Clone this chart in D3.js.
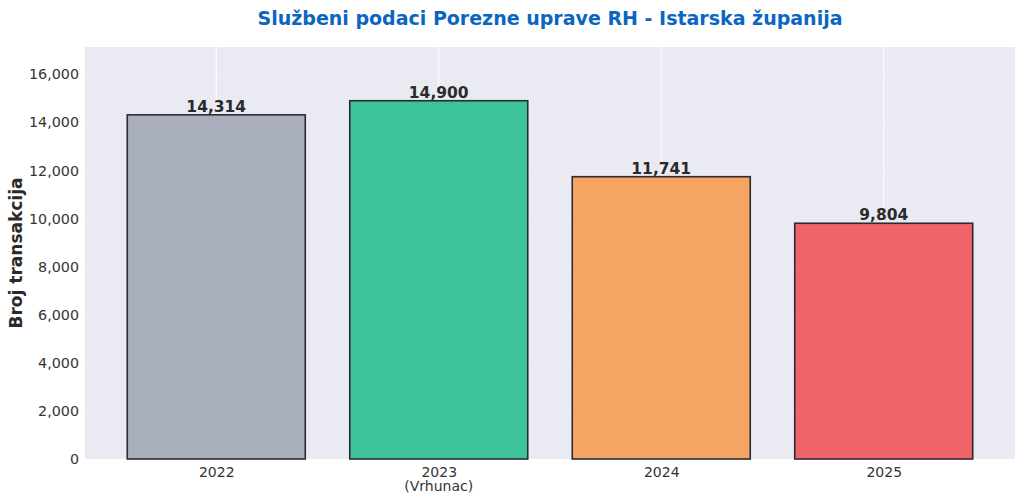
<!DOCTYPE html>
<html><head><meta charset="utf-8">
<script src="https://cdn.jsdelivr.net/npm/d3@7"></script>
<style>body{margin:0;background:#fff}svg{display:block}</style>
</head><body>
<svg id="c" width="1024" height="502"></svg>
<script>
const categories = ["2022", "2023", "2024", "2025"];
const subLabels = ["", "(Vrhunac)", "", ""];
const values = [14314, 14900, 11741, 9804];
const colors = ["#a9afbd", "#3cc399", "#f5a462", "#ee6468"];
const yTicks = [0, 2000, 4000, 6000, 8000, 10000, 12000, 14000, 16000];

const svg = d3.select("#c");
const font = "DejaVu Sans, sans-serif";
const m = {l: 85, r: 1015, t: 47, b: 459};
const x = d3.scaleLinear().domain([-0.59, 3.59]).range([m.l, m.r]);
const y = d3.scaleLinear().domain([0, d3.max(values) * 1.15]).range([m.b, m.t]);
const bw = x(0.4) - x(-0.4);

svg.append("rect").attr("x", m.l).attr("y", m.t).attr("width", m.r - m.l).attr("height", m.b - m.t).attr("fill", "#eaeaf2");

// grid
svg.append("g").selectAll("line").data(yTicks).join("line")
  .attr("x1", m.l).attr("x2", m.r).attr("y1", d => y(d)).attr("y2", d => y(d))
  .attr("stroke", "#fff").attr("stroke-opacity", 0.2).attr("stroke-dasharray", "4,3");
svg.append("g").selectAll("line").data(categories).join("line")
  .attr("x1", (d, i) => x(i)).attr("x2", (d, i) => x(i)).attr("y1", m.t).attr("y2", m.b)
  .attr("stroke", "#fff").attr("stroke-width", 1);

// bars
svg.append("g").selectAll("rect").data(values).join("rect")
  .attr("x", (d, i) => x(i) - bw / 2).attr("width", bw)
  .attr("y", d => y(d)).attr("height", d => y(0) - y(d))
  .attr("fill", (d, i) => colors[i]).attr("stroke", "#2b2b33").attr("stroke-width", 1.6);

// value labels
svg.append("g").selectAll("text").data(values).join("text")
  .attr("x", (d, i) => x(i)).attr("y", d => y(d) - 3)
  .attr("text-anchor", "middle").attr("font-family", font).attr("font-weight", "bold")
  .attr("font-size", 15.5).attr("fill", "#2a2a2a").text(d => d3.format(",")(d));

// y axis ticks
const yAxis = svg.append("g").attr("transform", `translate(${m.l},0)`)
  .call(d3.axisLeft(y).tickValues(yTicks).tickFormat(d3.format(",")).tickSize(0).tickPadding(6));
yAxis.select(".domain").remove();
yAxis.selectAll("text").attr("font-family", font).attr("font-size", 14.3).attr("fill", "#333");

// x axis ticks
const xAxis = svg.append("g").attr("transform", `translate(0,${m.b})`)
  .call(d3.axisBottom(x).tickValues([0, 1, 2, 3]).tickFormat(i => categories[i]).tickSize(0).tickPadding(8));
xAxis.select(".domain").remove();
xAxis.selectAll("text").attr("font-family", font).attr("font-size", 14).attr("fill", "#333");
svg.append("g").selectAll("text").data(subLabels).join("text")
  .attr("x", (d, i) => x(i)).attr("y", 491).attr("text-anchor", "middle")
  .attr("font-family", font).attr("font-size", 14).attr("fill", "#333").text(d => d);

// title & y label
svg.append("text").attr("x", (m.l + m.r) / 2).attr("y", 25).attr("text-anchor", "middle")
  .attr("font-family", font).attr("font-weight", "bold").attr("font-size", 19).attr("fill", "#0a66c2")
  .text("Službeni podaci Porezne uprave RH - Istarska županija");
svg.append("text").attr("transform", `translate(22,${(m.t + m.b) / 2}) rotate(-90)`).attr("text-anchor", "middle")
  .attr("font-family", font).attr("font-weight", "bold").attr("font-size", 17).attr("fill", "#2a2a2a")
  .text("Broj transakcija");
</script>
</body></html>
